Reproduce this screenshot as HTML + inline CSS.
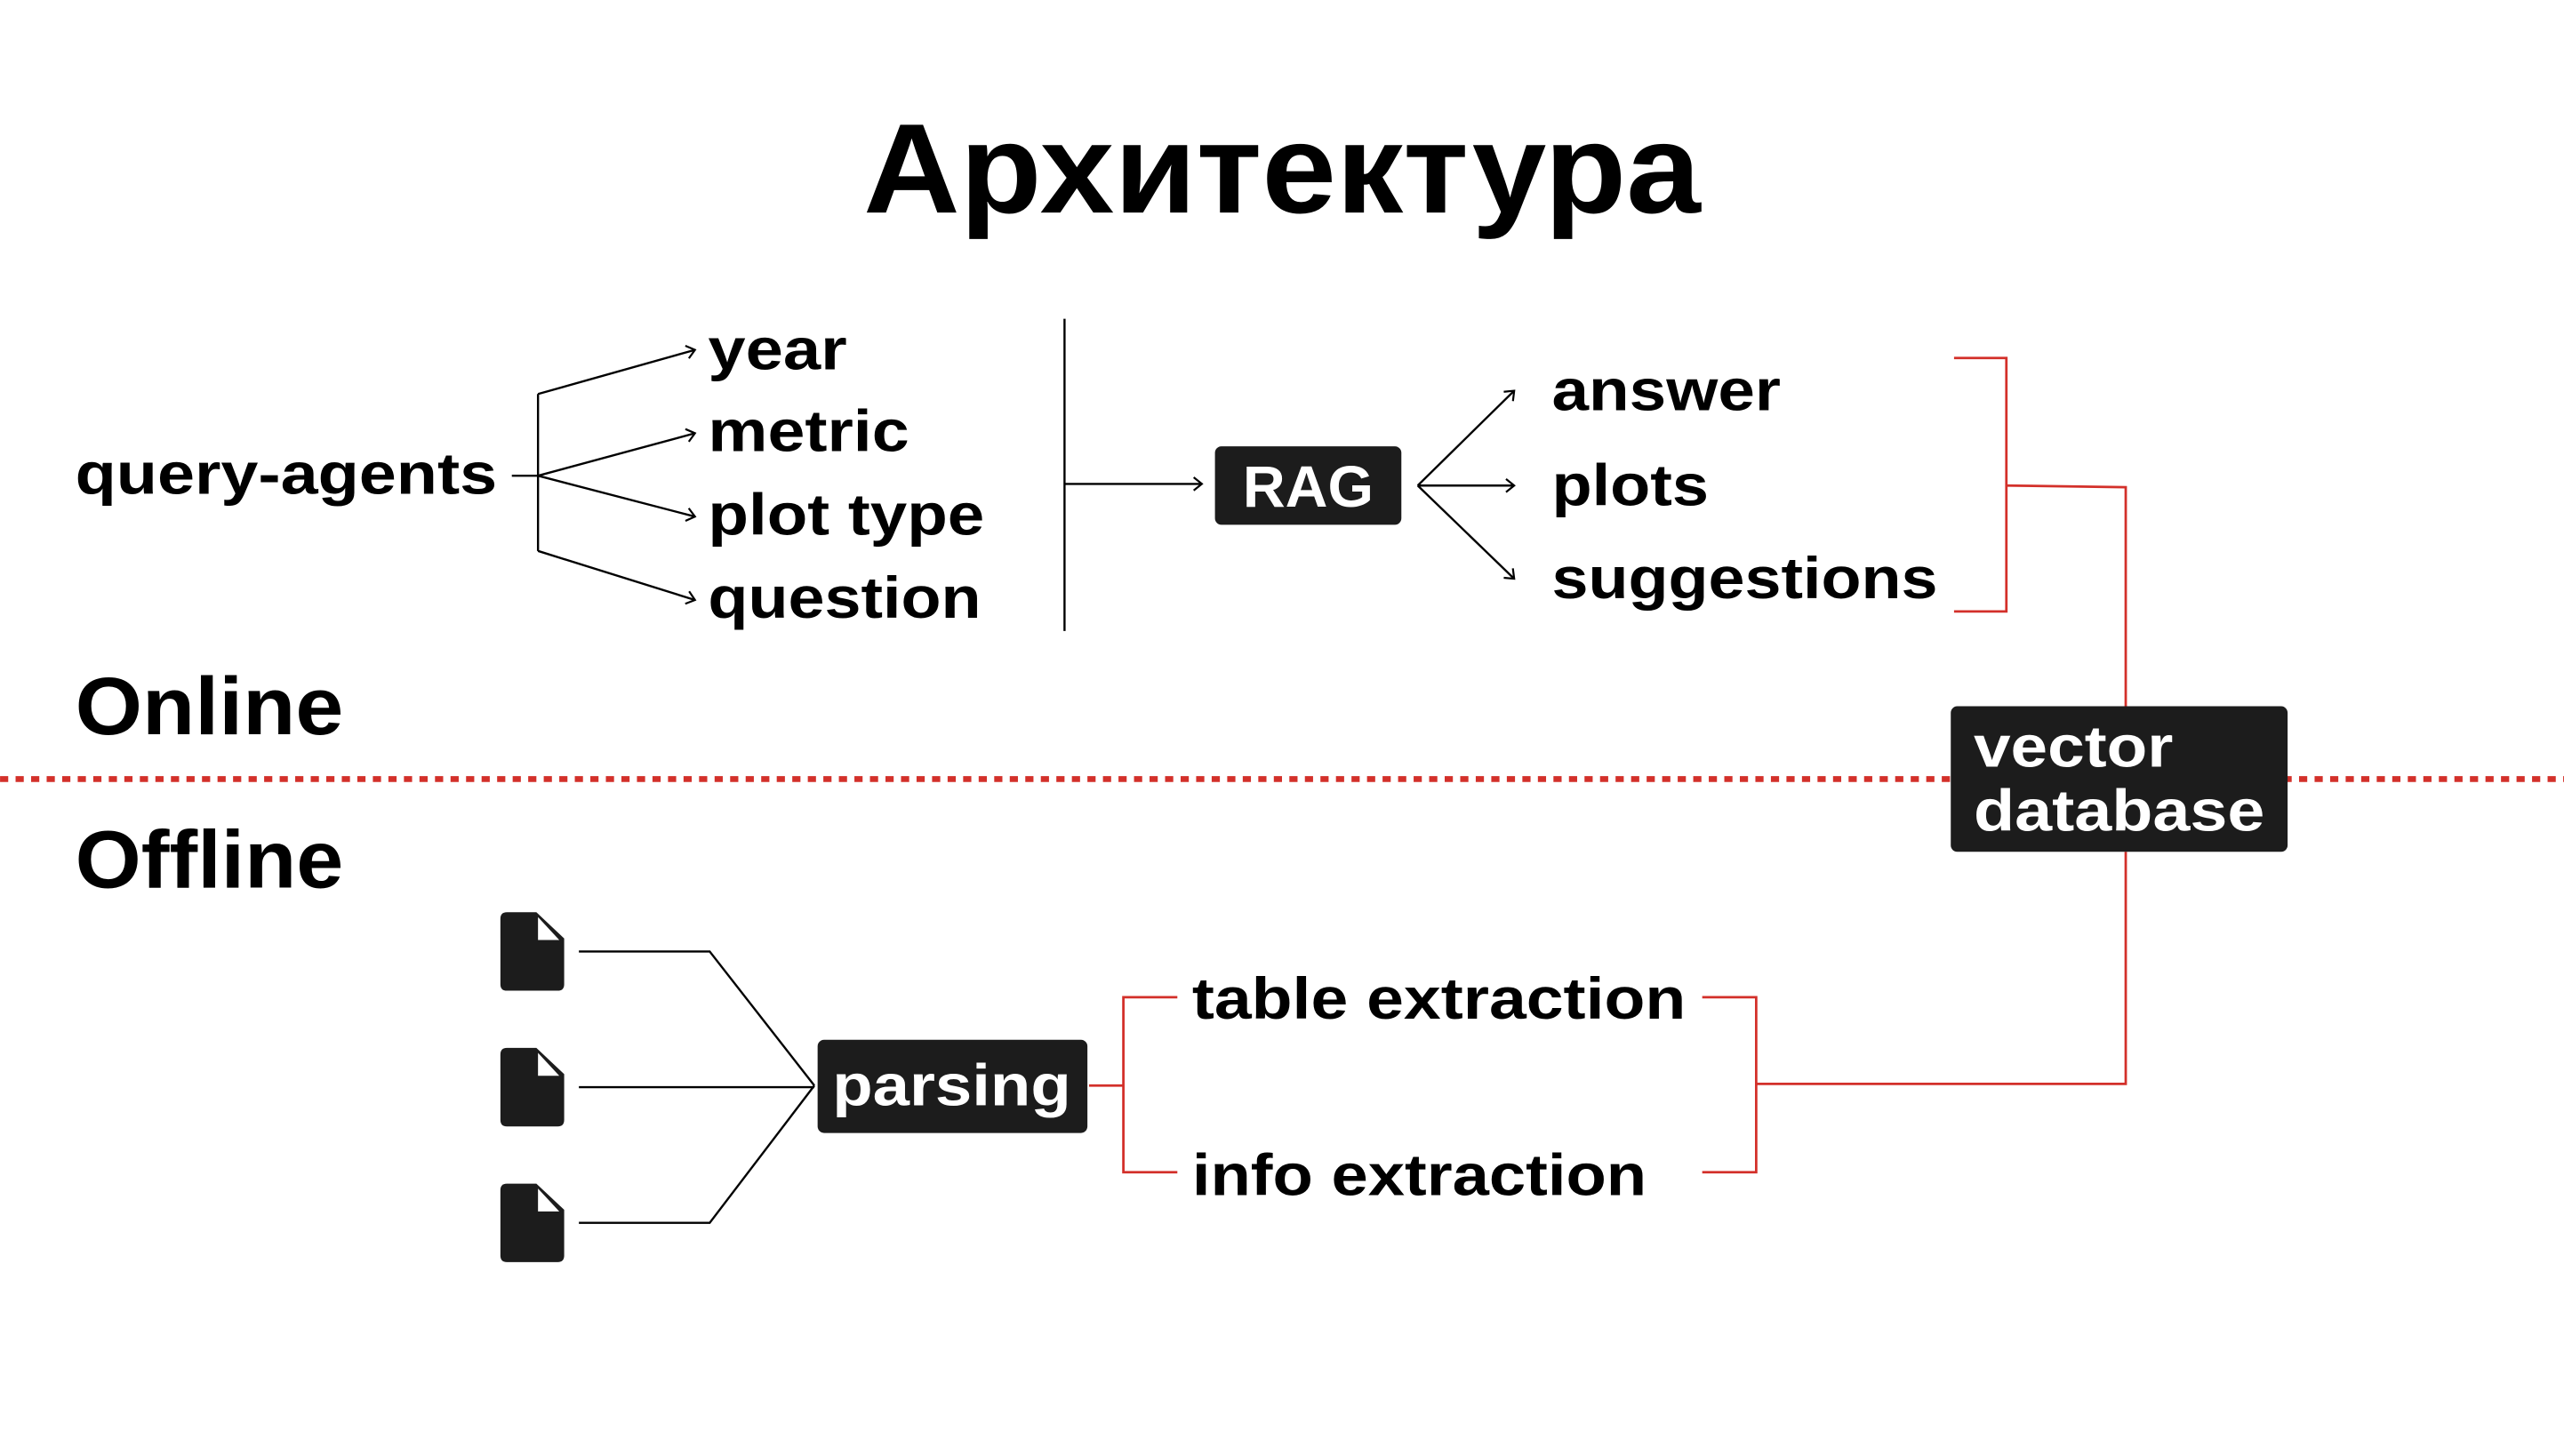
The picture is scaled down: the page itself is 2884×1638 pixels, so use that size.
<!DOCTYPE html>
<html><head><meta charset="utf-8">
<style>
html,body{margin:0;padding:0;background:#fff;}
svg{display:block;}
text{font-family:"Liberation Sans",sans-serif;font-weight:bold;}
</style></head>
<body>
<svg width="2884" height="1638" viewBox="0 0 1568 890.6" xmlns="http://www.w3.org/2000/svg">
<defs>
<marker id="ah" markerWidth="10" markerHeight="10" refX="8" refY="5" orient="auto" markerUnits="userSpaceOnUse">
<path d="M3,1 L8,5 L3,9" fill="none" stroke="#000" stroke-width="1.2"/>
</marker>
<g id="doc">
<path d="M306,562 q0,-4 4,-4 h18 l17,16 v28 q0,4 -4,4 h-31 q-4,0 -4,-4 z" fill="#1c1c1c"/>
<path d="M329,561 v14 h13 z" fill="#fff"/>
</g>
</defs>

<text x="528" y="130" font-size="78" textLength="512" lengthAdjust="spacingAndGlyphs">Архитектура</text>

<text x="46" y="302" font-size="36" textLength="258" lengthAdjust="spacingAndGlyphs">query-agents</text>
<g fill="none" stroke="#000" stroke-width="1.3">
<path d="M313,291 H329 M329,241 V337"/>
<path d="M329,241 L425,214" marker-end="url(#ah)"/>
<path d="M329,291 L425,265" marker-end="url(#ah)"/>
<path d="M329,291 L425,316" marker-end="url(#ah)"/>
<path d="M329,337 L425,367" marker-end="url(#ah)"/>
<path d="M651,195 V386"/>
<path d="M651,296 H735" marker-end="url(#ah)"/>
<path d="M867,297 L926,239" marker-end="url(#ah)"/>
<path d="M867,297 L926,297" marker-end="url(#ah)"/>
<path d="M867,297 L926,354" marker-end="url(#ah)"/>
</g>
<text x="433" y="226" font-size="36" textLength="85" lengthAdjust="spacingAndGlyphs">year</text>
<text x="433" y="276" font-size="36" textLength="123" lengthAdjust="spacingAndGlyphs">metric</text>
<text x="433" y="327" font-size="36" textLength="169" lengthAdjust="spacingAndGlyphs">plot type</text>
<text x="433" y="378" font-size="36" textLength="167" lengthAdjust="spacingAndGlyphs">question</text>

<rect x="743" y="273" width="114" height="48" rx="4" fill="#1c1c1c"/>
<text x="760" y="310" font-size="36" fill="#fff" textLength="80" lengthAdjust="spacingAndGlyphs">RAG</text>

<text x="949" y="251" font-size="36" textLength="140" lengthAdjust="spacingAndGlyphs">answer</text>
<text x="949" y="309" font-size="36" textLength="96" lengthAdjust="spacingAndGlyphs">plots</text>
<text x="949" y="366" font-size="36" textLength="236" lengthAdjust="spacingAndGlyphs">suggestions</text>

<g fill="none" stroke="#d3302a" stroke-width="1.5">
<path d="M1195,219 H1227 V374 H1195"/>
<path d="M1227,297 L1300,298 V432"/>
<path d="M1300,521 V663 H1074"/>
<path d="M1041,610 H1074 V717 H1041"/>
<path d="M720,610 H687 V717 H720"/>
<path d="M666,664 H687"/>
</g>

<line x1="0" y1="476.5" x2="1568" y2="476.5" stroke="#d3302a" stroke-width="3.6" stroke-dasharray="5,4.5"/>

<rect x="1193" y="432" width="206" height="89" rx="4" fill="#1c1c1c"/>
<text x="1207" y="469" font-size="36" fill="#fff" textLength="122" lengthAdjust="spacingAndGlyphs">vector</text>
<text x="1207" y="508" font-size="36" fill="#fff" textLength="178" lengthAdjust="spacingAndGlyphs">database</text>

<text x="46" y="449" font-size="50" textLength="164" lengthAdjust="spacingAndGlyphs">Online</text>
<text x="46" y="543" font-size="50" textLength="164" lengthAdjust="spacingAndGlyphs">Offline</text>

<text x="729" y="623" font-size="36" textLength="302" lengthAdjust="spacingAndGlyphs">table extraction</text>
<text x="729" y="731" font-size="36" textLength="278" lengthAdjust="spacingAndGlyphs">info extraction</text>

<rect x="500" y="636" width="165" height="57" rx="4" fill="#1c1c1c"/>
<text x="509" y="676" font-size="36" fill="#fff" textLength="146" lengthAdjust="spacingAndGlyphs">parsing</text>

<use href="#doc"/>
<use href="#doc" y="83"/>
<use href="#doc" y="166"/>
<g fill="none" stroke="#000" stroke-width="1.3">
<path d="M354,582 H434 L498,664"/>
<path d="M354,665 H498"/>
<path d="M354,748 H434 L498,664"/>
</g>
</svg>
</body></html>
